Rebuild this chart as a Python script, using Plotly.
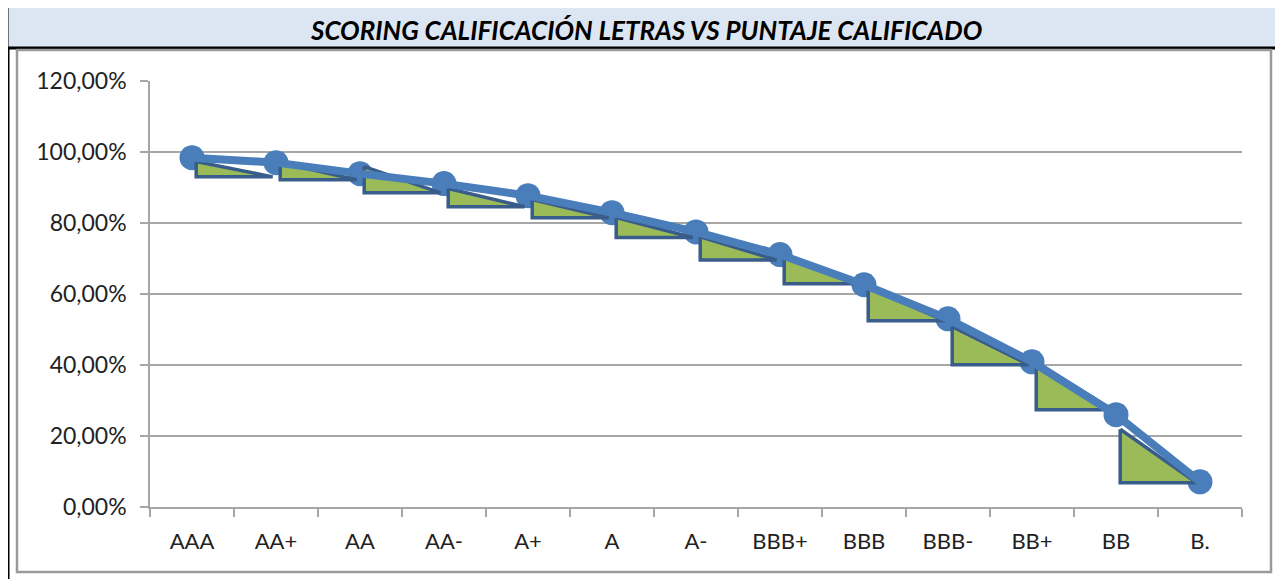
import plotly.graph_objects as go

categories = ["AAA", "AA+", "AA", "AA-", "A+", "A", "A-", "BBB+", "BBB", "BBB-", "BB+", "BB", "B."]
scores = [98.4, 97.0, 93.9, 91.1, 87.7, 82.9, 77.5, 71.1, 62.6, 53.0, 40.9, 26.0, 7.1]
tri_top = [97.3, 97.0, 95.9, 89.7, 86.6, 81.5, 76.1, 70.2, 61.8, 50.8, 40.7, 21.9]
tri_bottom = [93.0, 92.2, 88.5, 84.6, 81.5, 75.9, 69.6, 62.9, 52.5, 40.1, 27.4, 6.8]
y_ticks = [0, 20, 40, 60, 80, 100, 120]
y_tick_labels = ["0,00%", "20,00%", "40,00%", "60,00%", "80,00%", "100,00%", "120,00%"]
title = "SCORING CALIFICACIÓN LETRAS VS PUNTAJE CALIFICADO"

OFF = 8  # page body margin
W, H = 1283 - OFF, 579 - OFF
ML, MT = 150 - OFF, 81 - OFF
MR = W - (1242 - OFF)
MB = H - (507 - OFF)
PW, PH = W - ML - MR, H - MT - MB


def px(x):
    return (x - OFF - ML) / PW


def py(y):
    return (H - MB - (y - OFF)) / PH


BLUE = "#4a7ebb"
DARK = "#385d8a"
GREEN = "#9bbb59"
GRID = "#a6a6a6"

fig = go.Figure()
n = len(categories)
xs = list(range(n))

# markers (below triangles)
fig.add_trace(go.Scatter(x=xs, y=scores, mode="markers",
                         marker=dict(size=25, color=BLUE), hoverinfo="skip",
                         showlegend=False))

# triangles
dl, dr = 0.05, -0.04
for i in range(n - 1):
    fig.add_trace(go.Scatter(
        x=[i + dl, i + dl, i + 1 + dr, i + dl],
        y=[tri_top[i], tri_bottom[i], tri_bottom[i], tri_top[i]],
        mode="lines", fill="toself", fillcolor=GREEN,
        line=dict(color=DARK, width=3.5), hoverinfo="skip", showlegend=False))

# line on top
fig.add_trace(go.Scatter(x=xs, y=scores, mode="lines",
                         line=dict(color=BLUE, width=8), hoverinfo="skip",
                         showlegend=False))

shapes = [
    # title band
    dict(type="rect", xref="paper", yref="paper", x0=px(7), x1=px(1300), y0=py(48), y1=py(6),
         fillcolor="#dce6f2", line=dict(color="black", width=3)),
    # inner chart frame
    dict(type="rect", xref="paper", yref="paper", x0=px(17), x1=px(1271), y0=py(572), y1=py(50),
         line=dict(color="#9a9a9a", width=2.5)),
    # left black border
    dict(type="line", xref="paper", yref="paper", x0=px(8), x1=px(8), y0=py(48), y1=py(600),
         line=dict(color="black", width=3)),
]

fig.update_layout(
    width=W, height=H,
    margin=dict(l=ML, r=MR, t=MT, b=MB),
    paper_bgcolor="white", plot_bgcolor="white",
    shapes=shapes,
    annotations=[dict(text="<b><i>" + title + "</i></b>", xref="paper", yref="paper",
                      x=px(646), y=py(30), xanchor="center", yanchor="middle",
                      showarrow=False, font=dict(family="Lato", size=26, color="black"))],
    font=dict(family="Lato", size=22, color="#333333"),
)

fig.update_xaxes(range=[-0.5, n - 0.5], tickvals=xs, ticktext=categories,
                 showgrid=False, zeroline=False, showline=True, linecolor=GRID, linewidth=1.5,
                 ticks="", ticklabelstandoff=14,
                 minor=dict(tickvals=[i - 0.5 for i in range(n + 1)], ticks="outside",
                            ticklen=8, tickcolor=GRID, tickwidth=1.5, showgrid=False),
                 tickfont=dict(family="Lato", size=22, color="#222222"))
fig.update_yaxes(range=[0, 120], tickvals=y_ticks, ticktext=y_tick_labels,
                 showgrid=True, gridcolor=GRID, gridwidth=1.5, zeroline=False,
                 showline=True, linecolor=GRID, linewidth=1.5,
                 ticks="outside", ticklen=8, tickcolor=GRID, tickwidth=1.5,
                 ticklabelstandoff=9,
                 tickfont=dict(family="Lato", size=23, color="#222222"))

fig.write_html("out.html")
